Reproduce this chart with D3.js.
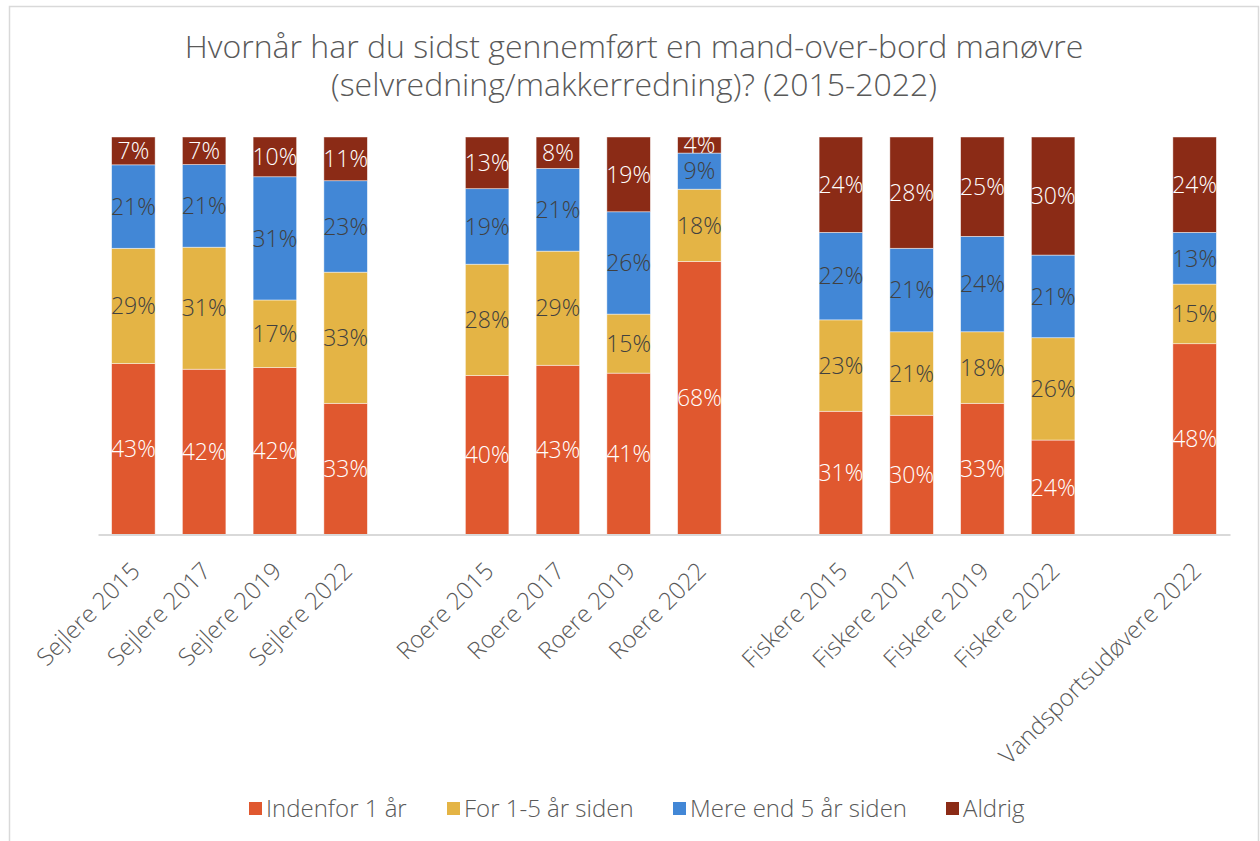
<!DOCTYPE html>
<html>
<head>
<meta charset="utf-8">
<script src="https://cdn.jsdelivr.net/npm/d3@7"></script>
<style>
  body { margin: 0; background: #fff; }
  svg { font-family: "Open Sans", Lato, sans-serif; font-weight: 300; }
</style>
</head>
<body>
<svg id="canvas" width="1260" height="841"></svg>
<script>
'use strict';

// categories, empty strings are the gaps between groups
const categories = [
    'Sejlere 2015', 'Sejlere 2017', 'Sejlere 2019', 'Sejlere 2022', '',
    'Roere 2015', 'Roere 2017', 'Roere 2019', 'Roere 2022', ' ',
    'Fiskere 2015', 'Fiskere 2017', 'Fiskere 2019', 'Fiskere 2022', '  ',
    'Vandsportsudøvere 2022'
];
const seriesNames = ['Indenfor 1 år', 'For 1-5 år siden', 'Mere end 5 år siden', 'Aldrig'];
const indenfor1 = [43, 42, 42, 33, null, 40, 43, 41, 68, null, 31, 30, 33, 24, null, 48];
const for1til5  = [29, 31, 17, 33, null, 28, 29, 15, 18, null, 23, 21, 18, 26, null, 15];
const mere5     = [21, 21, 31, 23, null, 19, 21, 26, 9,  null, 22, 21, 24, 21, null, 13];
const aldrig    = [7,  7,  10, 11, null, 13, 8,  19, 4,  null, 24, 28, 25, 30, null, 24];
const title = ['Hvornår har du sidst gennemført en mand-over-bord manøvre',
               '(selvredning/makkerredning)? (2015-2022)'];

const colors = ['#E0582F', '#E4B445', '#4287D6', '#8B2B16'];
const labelColors = ['#ffffff', '#404040', '#404040', '#ffffff'];

document.addEventListener('DOMContentLoaded', function() {
    const svg = d3.select('#canvas');

    // outer frame
    svg.append('rect')
        .attr('x', 9.5).attr('y', 6.5)
        .attr('width', 1249).attr('height', 900)
        .attr('fill', 'none')
        .attr('stroke', '#d9d9d9')
        .attr('stroke-width', 1.5);

    svg.append('g')
        .selectAll('text')
        .data(title)
        .enter().append('text')
            .attr('x', 634)
            .attr('y', function(d, i) { return 58 + i * 38; })
            .attr('text-anchor', 'middle')
            .attr('font-size', 32)
            .attr('fill', '#595959')
            .text(function(d) { return d; });

    const plotLeft = 98, plotRight = 1230, plotTop = 137, plotBottom = 534.5;

    const x = d3.scaleBand()
        .domain(categories)
        .range([plotLeft, plotRight])
        .paddingInner(0.385)
        .paddingOuter(0.1925);

    const y = d3.scaleLinear()
        .domain([0, 1])
        .range([plotBottom, plotTop]);

    // build rows, normalised to 100% like excel does
    const rows = categories.map(function(c, i) {
        return {
            cat: c,
            vals: [indenfor1[i], for1til5[i], mere5[i], aldrig[i]]
        };
    }).filter(function(r) { return r.vals[0] !== null; });

    const stackData = [];
    for (let r of rows) {
        const total = d3.sum(r.vals);
        let acc = 0;
        r.vals.forEach(function(v, k) {
            stackData.push({ cat: r.cat, k: k, v: v, y0: acc / total, y1: (acc + v) / total });
            acc += v;
        });
    }

    const bars = svg.append('g').attr('class', 'bars');
    bars.selectAll('rect')
        .data(stackData)
        .enter().append('rect')
            .attr('x', function(d) { return x(d.cat); })
            .attr('width', x.bandwidth())
            .attr('y', function(d) { return y(d.y1); })
            .attr('height', function(d) { return y(d.y0) - y(d.y1); })
            .attr('fill', function(d) { return colors[d.k]; })
            .attr('stroke', '#fff')
            .attr('stroke-opacity', 0.6)
            .attr('stroke-width', 0.75);

    bars.selectAll('text')
        .data(stackData)
        .enter().append('text')
            .attr('x', function(d) { return x(d.cat) + x.bandwidth() / 2; })
            .attr('y', function(d) { return (y(d.y0) + y(d.y1)) / 2; })
            .attr('dy', '0.36em')
            .attr('text-anchor', 'middle')
            .attr('font-size', 23)
            .attr('fill', function(d) { return labelColors[d.k]; })
            .text(function(d) { return d.v + '%'; });

    // axis
    const axis = svg.append('g')
        .attr('transform', 'translate(0,' + plotBottom + ')')
        .call(d3.axisBottom(x).tickSize(0).tickPadding(0));
    axis.select('.domain')
        .attr('stroke', '#d9d9d9')
        .attr('stroke-width', 2);
    axis.selectAll('text')
        .attr('font-family', '"Open Sans", Lato, sans-serif')
        .attr('font-size', 24)
        .attr('fill', '#595959')
        .attr('text-anchor', 'end')
        .attr('dy', 0)
        .attr('transform', 'translate(8,38) rotate(-45)');

    // legend
    const legendX = [249, 447, 673, 946];
    const legend = svg.append('g')
        .selectAll('g')
        .data(seriesNames)
        .enter().append('g')
            .attr('transform', function(d, i) { return 'translate(' + legendX[i] + ',802)'; });
    legend.append('rect')
        .attr('width', 13).attr('height', 13)
        .attr('fill', function(d, i) { return colors[i]; });
    legend.append('text')
        .attr('x', 17)
        .attr('y', 6.5)
        .attr('dy', '0.36em')
        .attr('font-size', 24)
        .attr('fill', '#595959')
        .text(function(d) { return d; });
}, false);
</script>
</body>
</html>
